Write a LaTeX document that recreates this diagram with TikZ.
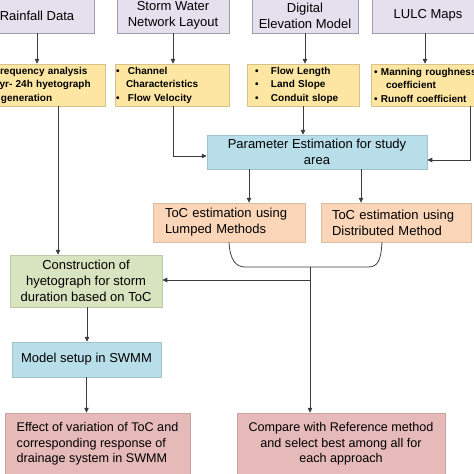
\documentclass[tikz,border=0pt]{standalone}
\usepackage{fontspec}
\setmainfont{Liberation Sans}
\usepackage{xcolor}
\usepackage{tikz}
\usetikzlibrary{positioning}
\usetikzlibrary{arrows.meta}

\definecolor{srcfill}{HTML}{E5E0EE}
\definecolor{srcline}{HTML}{A19BAE}
\definecolor{inpfill}{HTML}{FDE6A1}
\definecolor{parfill}{HTML}{B7DEE9}
\definecolor{tocfill}{HTML}{FBD5B7}
\definecolor{hyefill}{HTML}{D8E4BF}
\definecolor{resfill}{HTML}{E6BAB9}
\definecolor{linegray}{HTML}{3C3C3C}

\newcommand{\bul}[2]{\makebox[#1][l]{\textbullet}#2}

\begin{document}
\begin{tikzpicture}[x=1pt,y=1pt]
    \tikzset{Source/.style={rectangle, draw=srcline, fill=srcfill, line width=0.8pt, align=center, minimum height=35pt, inner sep=0pt, font=\fontsize{13}{16}\selectfont}};
    \tikzset{Input/.style={rectangle, draw=inpfill!85!black, fill=inpfill, line width=0.5pt, align=left, minimum height=42pt, inner sep=0pt, font=\fontsize{10}{13.5}\selectfont\bfseries}};
    \tikzset{Box/.style={rectangle, draw=#1!88!black, fill=#1, line width=0.5pt, inner sep=0pt, font=\fontsize{13}{16}\selectfont}};
    \tikzset{Arrow/.style={draw=linegray, line width=0.8pt, -{Triangle[length=5pt,width=4.5pt]}}};
    \tikzset{Link/.style={draw=linegray, line width=0.8pt}};
    \useasboundingbox (0,0) rectangle (474,-474);

    % data sources
    \node[Source, minimum width=114pt] (rain) at (37,-15.5) {Rainfall Data};
    \node[Source, minimum width=112pt] (storm) at (173,-15.5) {Storm Water\\Network Layout};
    \node[Source, minimum width=106pt] (dem) at (305,-15.5) {Digital\\Elevation Model};
    \node[Source, minimum width=112pt] (lulc) at (428,-15.5) {LULC Maps};

    % derived inputs
    \node[Input, minimum width=120pt, text width=102pt] (rainY) at (45,-85) {Frequency analysis\\2yr- 24h hyetograph\\\hspace*{7pt}generation};
    \node[Input, minimum width=114pt, text width=112pt] (stormY) at (172,-85) {\bul{12pt}{Channel}\\\hspace*{10pt}Characteristics\\\bul{12pt}{Flow Velocity}};
    \node[Input, minimum width=112pt, text width=96pt] (demY) at (303,-85) {\bul{16pt}{Flow Length}\\\bul{16pt}{Land Slope}\\\bul{16pt}{Conduit slope}};
    \node[Input, minimum width=118pt, text width=112pt] (lulcY) at (430,-85) {\bul{7pt}{Manning roughness}\\\hspace*{12pt}coefficient\\\bul{7pt}{Runoff coefficient}};

    \node[Box=parfill, minimum width=220pt, minimum height=34pt, align=center] (param) at (317,-152) {Parameter Estimation for study\\area};
    \node[Box=tocfill, minimum width=152pt, minimum height=39pt, text width=128pt, align=left] (toclump) at (229,-222.5) {ToC estimation using\\Lumped Methods};
    \node[Box=tocfill, minimum width=150pt, minimum height=39pt, text width=128pt, align=left] (tocdist) at (396,-222.5) {ToC estimation using\\Distributed Method};

    \node[Box=hyefill, minimum width=152pt, minimum height=52pt, align=center] (hyeto) at (86,-281) {Construction of\\hyetograph for storm\\duration based on ToC};
    \node[Box=parfill, minimum width=149pt, minimum height=35pt, align=center] (model) at (86.5,-359.5) {Model setup in SWMM};
    \node[Box=resfill, minimum width=185pt, minimum height=62pt, align=left, font=\fontsize{12.6}{15.5}\selectfont] (effect) at (97.5,-444) {Effect of variation of ToC and\\corresponding response of\\drainage system in SWMM};
    \node[Box=resfill, minimum width=208pt, minimum height=62pt, align=center, font=\fontsize{12.6}{15.5}\selectfont] (compare) at (341,-444) {Compare with Reference method\\and select best among all for\\each approach};

    % connectors
    \draw[Arrow] (rain.south) -- (rain.south |- rainY.north);
    \draw[Arrow] (storm.south) -- (storm.south |- stormY.north);
    \draw[Arrow] (dem.south) -- (dem.south |- demY.north);
    \draw[Arrow] ([xshift=-3pt]lulc.south) -- ([xshift=-3pt]lulc.south |- lulcY.north);

    \draw[Arrow] ([xshift=13pt]rainY.south) -- ([xshift=13pt]rainY.south |- hyeto.north);
    \draw[Arrow] ([xshift=1pt]stormY.south) |- ([yshift=-4pt]param.west);
    \draw[Arrow] (demY.south) -- (demY.south |- param.north);
    \draw[Arrow] ([xshift=40pt]lulcY.south) |- ([yshift=-8pt]param.east);

    \draw[Arrow] ([xshift=-68pt]param.south) -- ([xshift=-68pt]param.south |- toclump.north);
    \draw[Arrow] ([xshift=44pt]param.south) -- ([xshift=44pt]param.south |- tocdist.north);

    \coordinate (bl) at (245,-267);
    \coordinate (br) at (368,-267);
    \coordinate (join) at (310,-267);
    \coordinate (tap) at (310,-280);
    \draw[Link] (toclump.south) .. controls +(1,-18) and +(-9,0) .. (bl) -- (br) .. controls +(10,0) and +(-1,-18) .. ([xshift=-14pt]tocdist.south);
    \draw[Arrow] (join) -- (join |- compare.north);
    \draw[Arrow] (tap) -- (tap -| hyeto.east);

    \draw[Arrow] ([xshift=1pt]hyeto.south) -- ([xshift=1pt]hyeto.south |- model.north);
    \draw[Arrow] (model.south) -- (model.south |- effect.north);
\end{tikzpicture}
\end{document}
